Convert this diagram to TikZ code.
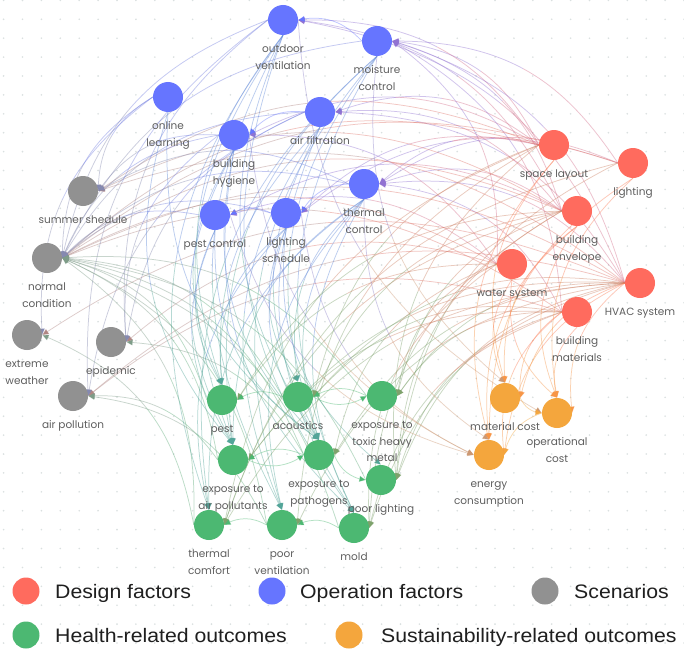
\documentclass[tikz,border=0pt]{standalone}
\usepackage{fontspec}
\setmainfont{Liberation Sans}
\newfontfamily\labfont{Poppins}
\usetikzlibrary{calc,arrows.meta}
\definecolor{cD}{RGB}{255,107,94}
\definecolor{cO}{RGB}{102,117,255}
\definecolor{cS}{RGB}{145,145,145}
\definecolor{cH}{RGB}{76,184,114}
\definecolor{cU}{RGB}{244,166,61}
\definecolor{labgrey}{RGB}{95,95,95}
\definecolor{dotgrey}{RGB}{218,224,224}
\pgfdeclarelayer{grid}
\pgfdeclarelayer{edges}
\pgfsetlayers{grid,edges,main}
\tikzset{
  nd/.style={circle, inner sep=0pt, minimum size=30pt, label distance=0pt},
  lab/.style={font=\labfont\fontsize{10.5}{16.5}\selectfont, text=labgrey, align=center, inner sep=0pt, yshift=-6pt},
  lgc/.style={circle, inner sep=0pt, minimum size=27pt},
  lgt/.style={font=\fontsize{19.5}{22}\selectfont, text=black!88, inner sep=0pt, anchor=base west},
  edgeline/.style={line width=0.75pt, draw opacity=0.42},
  tip/.style={-{Triangle[length=6.5pt,width=6pt]}}
}
\newcommand\edg[4]{%
  \pgfpointanchor{#1}{center}\pgfgetlastxy{\edgxa}{\edgya}%
  \pgfpointanchor{#2}{center}\pgfgetlastxy{\edgxb}{\edgyb}%
  \pgfmathtruncatemacro\edghz{abs(\edgxb-\edgxa)>=0.5*abs(\edgyb-\edgya)}%
  \ifnum\edghz=1
    \pgfmathtruncatemacro\edgpos{\edgxb>\edgxa}%
    \ifnum\edgpos=1 \def\srcp{east}\def\tgtp{west}\else\def\srcp{west}\def\tgtp{east}\fi
  \else
    \pgfmathtruncatemacro\edgpos{\edgyb>\edgya}%
    \ifnum\edgpos=1 \def\srcp{north}\def\tgtp{south}\else\def\srcp{south}\def\tgtp{north}\fi
  \fi
  \coordinate (pa) at (#1.\srcp);
  \coordinate (pb) at (#2.\tgtp);
  \coordinate (q1) at ($(pa)!0.42!-28:(pb)$);
  \coordinate (q2) at ($(pb)!0.42!28:(pa)$);
  \coordinate (m01) at ($(pa)!0.5!(q1)$);
  \coordinate (m12) at ($(q1)!0.5!(q2)$);
  \coordinate (m23) at ($(q2)!0.5!(pb)$);
  \coordinate (m012) at ($(m01)!0.5!(m12)$);
  \coordinate (m123) at ($(m12)!0.5!(m23)$);
  \coordinate (mm) at ($(m012)!0.5!(m123)$);
  \draw[edgeline, draw=#3!72!#4] (pa) .. controls (m01) and (m012) .. (mm);
  \draw[edgeline, tip, draw=#4!72!#3] (mm) .. controls (m123) and (m23) .. (pb);
}
\begin{document}
\begin{tikzpicture}[x=1pt, y=-1pt]
\useasboundingbox (0,0) rectangle (684,650);
\begin{pgfonlayer}{grid}
\fill[white] (0,0) rectangle (684,650);
\foreach \i in {0,...,36} {\foreach \j in {0,...,34} {\fill[dotgrey] (3.6+18.9*\i, 0.4+18.9*\j) circle (0.9);}}
\end{pgfonlayer}

% Operation factors
\node[nd, fill=cO, label={[lab]below:{\strut outdoor\\ventilation}}] (OV) at (283,20) {};
\node[nd, fill=cO, label={[lab]below:{\strut moisture\\control}}] (MC) at (377,41) {};
\node[nd, fill=cO, label={[lab]below:{\strut online\\learning}}] (OL) at (168,97) {};
\node[nd, fill=cO, label={[lab]below:{\strut air filtration}}] (AF) at (320,112) {};
\node[nd, fill=cO, label={[lab]below:{\strut building\\hygiene}}] (BH) at (234,135) {};
\node[nd, fill=cO, label={[lab]below:{\strut thermal\\control}}] (TC) at (364,184) {};
\node[nd, fill=cO, label={[lab]below:{\strut pest control}}] (PC) at (215,215) {};
\node[nd, fill=cO, label={[lab]below:{\strut lighting\\schedule}}] (LS) at (286,213) {};
% Scenarios
\node[nd, fill=cS, label={[lab]below:{\strut summer shedule}}] (SS) at (83,191) {};
\node[nd, fill=cS, label={[lab]below:{\strut normal\\condition}}] (NC) at (47,258) {};
\node[nd, fill=cS, label={[lab]below:{\strut extreme\\weather}}] (EW) at (27,335) {};
\node[nd, fill=cS, label={[lab]below:{\strut epidemic}}] (EP) at (111,342) {};
\node[nd, fill=cS, label={[lab]below:{\strut air pollution}}] (AP) at (73,396) {};
% Health-related outcomes
\node[nd, fill=cH, label={[lab]below:{\strut pest}}] (PE) at (222,400) {};
\node[nd, fill=cH, label={[lab]below:{\strut acoustics}}] (AC) at (298,397) {};
\node[nd, fill=cH, label={[lab]below:{\strut exposure to\\toxic heavy\\metal}}] (TH) at (382,396) {};
\node[nd, fill=cH, label={[lab]below:{\strut exposure to\\air pollutants}}] (AIP) at (233,460) {};
\node[nd, fill=cH, label={[lab]below:{\strut exposure to\\pathogens}}] (PA) at (319,455) {};
\node[nd, fill=cH, label={[lab]below:{\strut poor lighting}}] (PL) at (381,480) {};
\node[nd, fill=cH, label={[lab]below:{\strut thermal\\comfort}}] (TCF) at (209,525) {};
\node[nd, fill=cH, label={[lab]below:{\strut poor\\ventilation}}] (PV) at (282,525) {};
\node[nd, fill=cH, label={[lab]below:{\strut mold}}] (MO) at (354,528) {};
% Sustainability-related outcomes
\node[nd, fill=cU, label={[lab]below:{\strut material cost}}] (MAT) at (505,398) {};
\node[nd, fill=cU, label={[lab]below:{\strut operational\\cost}}] (OPC) at (557,413) {};
\node[nd, fill=cU, label={[lab]below:{\strut energy\\consumption}}] (EC) at (489,455) {};
% Design factors
\node[nd, fill=cD, label={[lab]below:{\strut space layout}}] (SL) at (554,145) {};
\node[nd, fill=cD, label={[lab]below:{\strut lighting}}] (LI) at (633,163) {};
\node[nd, fill=cD, label={[lab]below:{\strut building\\envelope}}] (BE) at (577,211) {};
\node[nd, fill=cD, label={[lab]below:{\strut water system}}] (WS) at (512,264) {};
\node[nd, fill=cD, label={[lab]below:{\strut HVAC system}}] (HV) at (640,283) {};
\node[nd, fill=cD, label={[lab]below:{\strut building\\materials}}] (BM) at (577,312) {};

\begin{pgfonlayer}{edges}
% design -> operation
\foreach \a/\b in {SL/MC, SL/OV, SL/AF, SL/TC, SL/LS, SL/BH, LI/LS, LI/TC, LI/MC,
  BE/MC, BE/OV, BE/TC, BE/PC, BE/AF, WS/MC, WS/BH, WS/PC, HV/TC, HV/AF, HV/MC, HV/OV,
  BM/MC, BM/TC} {\edg{\a}{\b}{cD}{cO}}
% operation -> operation
\foreach \a/\b in {MC/OV, LS/PC, AF/BH, TC/LS} {\edg{\a}{\b}{cO}{cO}}
% design -> scenarios
\foreach \a/\b in {SL/NC, BE/NC, WS/NC, HV/NC, BM/NC, LI/NC, HV/SS, BE/SS, WS/EP, HV/EW,
  BM/AP, HV/AP, SL/SS} {\edg{\a}{\b}{cD}{cS}}
% operation -> scenarios
\foreach \a/\b in {OL/SS, TC/SS, BH/SS, PC/NC, LS/NC, BH/NC, AF/NC, OV/NC, MC/NC, TC/NC,
  OL/EW, OV/EP, AF/EP, BH/EP, AF/AP, OV/AP, OL/NC} {\edg{\a}{\b}{cO}{cS}}
% health -> scenarios
\foreach \a/\b in {PE/NC, AC/NC, AIP/NC, TCF/NC, PV/NC, PA/NC, TH/NC, TCF/EW, AIP/AP,
  PV/AP, PA/EP, MO/NC, PL/NC} {\edg{\a}{\b}{cH}{cS}}
% operation -> health
\foreach \a/\b in {OV/PV, OV/AIP, OV/TCF, OV/PA, OV/MO, OV/PE, MC/MO, MC/PA, MC/TCF, MC/PV,
  MC/AIP, AF/AIP, AF/PA, AF/PV, AF/MO, BH/PE, BH/PA, BH/MO, BH/AIP, TC/TCF, TC/MO, TC/PV,
  TC/AC, TC/PA, TC/AIP, PC/PE, PC/AIP, PC/PA, LS/PL, LS/AC, LS/PE, LS/PA, LS/TCF,
  OL/AIP, OL/PA} {\edg{\a}{\b}{cO}{cH}}
% design -> health
\foreach \a/\b in {SL/AC, SL/PV, SL/PL, SL/TCF, LI/PL, LI/TCF, BE/TCF, BE/AC, BE/MO, BE/PE,
  BE/TH, BE/PL, WS/MO, WS/PA, WS/TH, WS/PE, HV/PV, HV/TCF, HV/AIP, HV/PA, HV/MO, HV/AC,
  HV/TH, HV/PL, BM/TH, BM/AIP, BM/MO, BM/AC, BM/PL} {\edg{\a}{\b}{cD}{cH}}
% health -> health
\foreach \a/\b in {AC/PE, TH/AC, PA/AIP, AIP/PA, PV/TCF, MO/PV, PA/PL, AC/TH} {\edg{\a}{\b}{cH}{cH}}
% design -> sustainability
\foreach \a/\b in {SL/EC, SL/MAT, LI/EC, LI/OPC, BE/EC, BE/MAT, BE/OPC, WS/MAT, WS/OPC,
  HV/EC, HV/OPC, HV/MAT, BM/MAT, BM/OPC, BM/EC} {\edg{\a}{\b}{cD}{cU}}
% operation -> sustainability
\foreach \a/\b in {TC/EC, LS/EC, BH/EC, PC/EC, OV/OPC, MC/MAT} {\edg{\a}{\b}{cO}{cU}}
% sustainability -> sustainability
\foreach \a/\b in {MAT/OPC, OPC/EC} {\edg{\a}{\b}{cU}{cU}}
\end{pgfonlayer}

% legend
\node[lgc, fill=cD] (LD) at (26,591) {};
\node[lgt] (LDt) at (55,598) {\scalebox{1.09}[1]{Design factors}};
\node[lgc, fill=cO] (LO) at (272,591) {};
\node[lgt] (LOt) at (300,598) {\scalebox{1.09}[1]{Operation factors}};
\node[lgc, fill=cS] (LS2) at (545,591) {};
\node[lgt] (LSt) at (574,598) {\scalebox{1.09}[1]{Scenarios}};
\node[lgc, fill=cH] (LH) at (26,635) {};
\node[lgt] (LHt) at (55,642) {\scalebox{1.09}[1]{Health-related outcomes}};
\node[lgc, fill=cU] (LU) at (349,635) {};
\node[lgt] (LUt) at (381,642) {\scalebox{1.09}[1]{Sustainability-related outcomes}};
\end{tikzpicture}
\end{document}
